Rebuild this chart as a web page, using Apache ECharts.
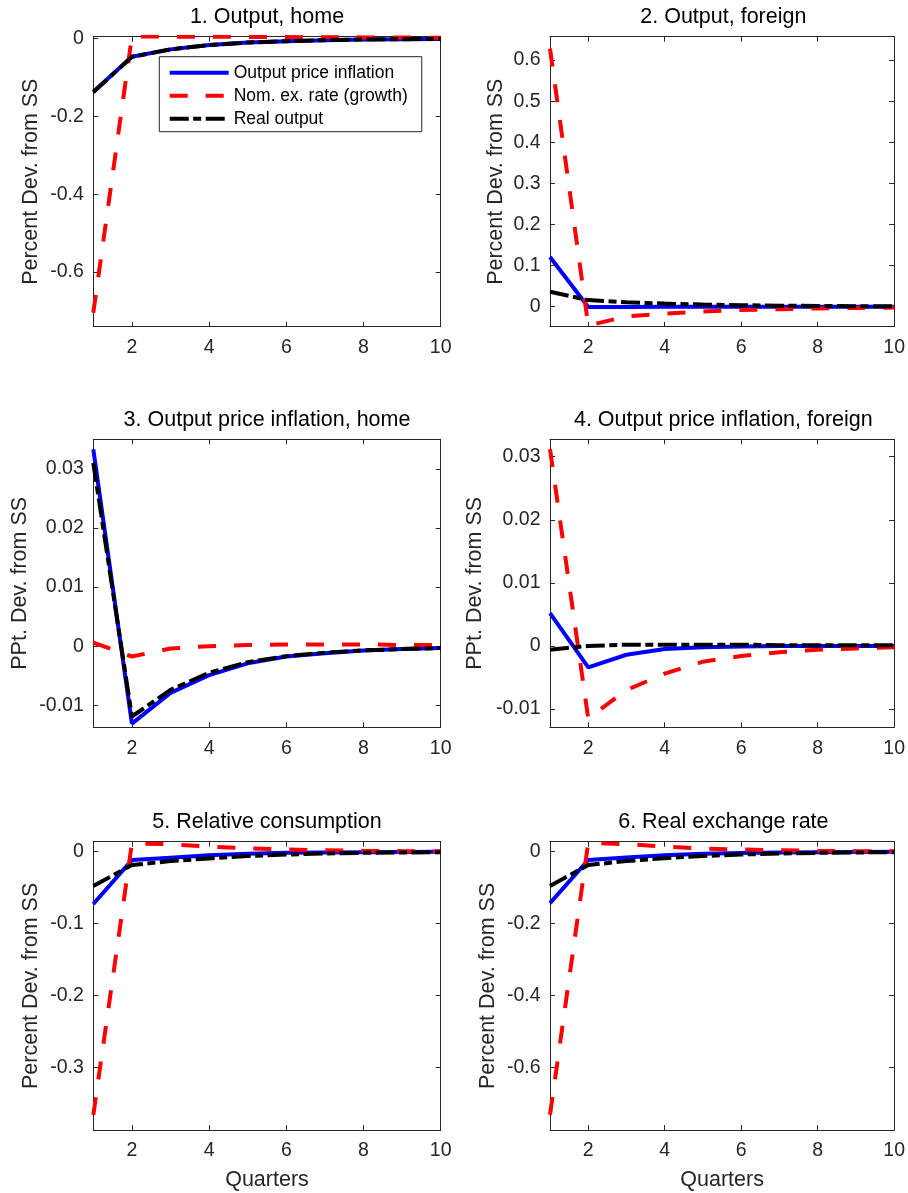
<!DOCTYPE html>
<html>
<head>
<meta charset="utf-8">
<script src="https://cdn.jsdelivr.net/npm/echarts@6/dist/echarts.min.js"></script>
<style>
html,body{margin:0;padding:0;background:#fff;}
#chart{width:908px;height:1193px;}
</style>
</head>
<body>
<div id="chart"></div>
<script>
// ---------------- data ----------------
const quarters = [1, 2, 3, 4, 5, 6, 7, 8, 9, 10];
const xTicks = [2, 4, 6, 8, 10];
const seriesNames = ['Output price inflation', 'Nom. ex. rate (growth)', 'Real output'];
const panelTitles = ['1. Output, home', '2. Output, foreign', '3. Output price inflation, home',
  '4. Output price inflation, foreign', '5. Relative consumption', '6. Real exchange rate'];
const yAxisNames = ['Percent Dev. from SS', 'Percent Dev. from SS', 'PPt. Dev. from SS',
  'PPt. Dev. from SS', 'Percent Dev. from SS', 'Percent Dev. from SS'];

// Panel 1: Output, home
const blue1  = [-0.137, -0.047, -0.028, -0.017, -0.0105, -0.0068, -0.0043, -0.0027, -0.0017, -0.0011];
const red1   = [-0.705, 0.005, 0.0048, 0.0045, 0.004, 0.0036, 0.0032, 0.0028, 0.0024, 0.002];
const black1 = [-0.138, -0.047, -0.028, -0.017, -0.0105, -0.0068, -0.0043, -0.0027, -0.0017, -0.0011];
const yTicks1 = [-0.6, -0.4, -0.2, 0];

// Panel 2: Output, foreign
const blue2  = [0.121, -0.0006, -0.0005, -0.0004, -0.0003, -0.0002, -0.0001, -0.0001, 0, 0];
const red2   = [0.628, -0.046, -0.0235, -0.017, -0.012, -0.0081, -0.006, -0.0042, -0.003, -0.002];
const black2 = [0.0365, 0.016, 0.0107, 0.0075, 0.0052, 0.0036, 0.0025, 0.0017, 0.0012, 0.0008];
const yTicks2 = [0, 0.1, 0.2, 0.3, 0.4, 0.5, 0.6];

// Panel 3: Output price inflation, home
const blue3  = [0.0333, -0.0131, -0.0079, -0.0049, -0.0029, -0.00175, -0.0012, -0.00074, -0.0005, -0.0003];
const red3   = [0.0006, -0.00175, -0.0004, 0.0, 0.0002, 0.0003, 0.0003, 0.0003, 0.0002, 0.0002];
const black3 = [0.031, -0.0119, -0.0074, -0.0045, -0.0027, -0.0017, -0.0011, -0.0007, -0.0005, -0.0003];
const yTicks3 = [-0.01, 0, 0.01, 0.02, 0.03];

// Panel 4: Output price inflation, foreign
const blue4  = [0.0052, -0.0034, -0.0014, -0.0005, -0.0002, -0.0001, 0, 0, 0, 0];
const red4   = [0.0312, -0.0115, -0.0070, -0.0044, -0.0025, -0.0016, -0.0010, -0.0006, -0.0004, -0.0002];
const black4 = [-0.0006, 0.0, 0.0002, 0.0002, 0.0002, 0.0002, 0.0001, 0.0001, 0.0001, 0.0001];
const yTicks4 = [-0.01, 0, 0.01, 0.02, 0.03];

// Panel 5: Relative consumption
const blue5  = [-0.0727, -0.0116, -0.0083, -0.005, -0.003, -0.0016, -0.001, -0.0006, -0.0004, -0.0002];
const red5   = [-0.3657, 0.0117, 0.0103, 0.007, 0.0047, 0.003, 0.002, 0.0012, 0.0008, 0.0005];
const black5 = [-0.0476, -0.0185, -0.013, -0.0093, -0.006, -0.0039, -0.0025, -0.0016, -0.001, -0.0007];
const yTicks5 = [-0.3, -0.2, -0.1, 0];

// Panel 6: Real exchange rate
const blue6  = [-0.143, -0.023, -0.016, -0.0095, -0.0058, -0.0033, -0.002, -0.0012, -0.0007, -0.0004];
const red6   = [-0.731, 0.025, 0.021, 0.014, 0.009, 0.006, 0.004, 0.0025, 0.0016, 0.001];
const black6 = [-0.095, -0.037, -0.026, -0.018, -0.012, -0.0078, -0.005, -0.0032, -0.002, -0.0013];
const yTicks6 = [-0.6, -0.4, -0.2, 0];

// ---------------- layout & style ----------------
const panels = [
  {blue: blue1, red: red1, black: black1, ticks: yTicks1, min: -0.7406, max: 0.0046, nameGap: 51},
  {blue: blue2, red: red2, black: black2, ticks: yTicks2, min: -0.0487, max: 0.657, nameGap: 42.5},
  {blue: blue3, red: red3, black: black3, ticks: yTicks3, min: -0.01373, max: 0.0350, nameGap: 62.5},
  {blue: blue4, red: red4, black: black4, ticks: yTicks4, min: -0.0129, max: 0.03276, nameGap: 63.5},
  {blue: blue5, red: red5, black: black5, ticks: yTicks5, min: -0.3865, max: 0.0139, nameGap: 51},
  {blue: blue6, red: red6, black: black6, ticks: yTicks6, min: -0.773, max: 0.0278, nameGap: 51}
];
const cols = [{left: 93.3, width: 347.4}, {left: 550, width: 346.7}];
const rows = [{top: 36.7, height: 290}, {top: 439.3, height: 288}, {top: 841.7, height: 288.3}];
const titleTops = [6, 408.7, 811];

const FONT = '"Liberation Sans", Arial, Helvetica, sans-serif';
const AX = '#262626';
const lineStyles = [
  {color: '#0000ff', width: 4, type: 'solid'},
  {color: '#ff0000', width: 4, type: [18, 18]},
  {color: '#000000', width: 4, type: [19, 4.5, 8, 4.5]}
];

const grid = [], xAxis = [], yAxis = [], series = [], title = [];

function pairs(arr) { return quarters.map((q, k) => [q, arr[k]]); }

panels.forEach((p, i) => {
  const r = rows[Math.floor(i / 2)], c = cols[i % 2];
  grid.push({left: c.left, top: r.top, width: c.width, height: r.height, containLabel: false});
  title.push({
    text: panelTitles[i], left: c.left + c.width / 2, top: titleTops[Math.floor(i / 2)],
    textAlign: 'center', padding: 0,
    textStyle: {fontFamily: FONT, fontSize: 21.5, fontWeight: 'normal', color: '#000'}
  });
  const axLine = {show: true, onZero: false, lineStyle: {color: AX, width: 1}};
  const isBottom = i >= 4;
  xAxis.push({
    type: 'value', gridIndex: i, position: 'bottom', min: 1, max: 10,
    axisLine: axLine,
    axisTick: {show: true, inside: true, length: 5, customValues: xTicks, lineStyle: {color: AX}},
    axisLabel: {show: true, customValues: xTicks, margin: 11, fontFamily: FONT, fontSize: 19.5, color: AX},
    splitLine: {show: false},
    name: isBottom ? 'Quarters' : '', nameLocation: 'middle', nameGap: 39,
    nameTextStyle: {fontFamily: FONT, fontSize: 21.5, color: AX}
  });
  xAxis.push({
    type: 'value', gridIndex: i, position: 'top', min: 1, max: 10,
    axisLine: axLine,
    axisTick: {show: true, inside: true, length: 5, customValues: xTicks, lineStyle: {color: AX}},
    axisLabel: {show: false}, splitLine: {show: false}
  });
  yAxis.push({
    type: 'value', gridIndex: i, position: 'left', min: p.min, max: p.max,
    axisLine: axLine,
    axisTick: {show: true, inside: true, length: 5, customValues: p.ticks, lineStyle: {color: AX}},
    axisLabel: {show: true, customValues: p.ticks, margin: 9.5, fontFamily: FONT, fontSize: 19.5, color: AX},
    splitLine: {show: false},
    name: yAxisNames[i], nameLocation: 'middle', nameRotate: 90, nameGap: p.nameGap,
    nameTextStyle: {fontFamily: FONT, fontSize: 21.5, color: AX}
  });
  yAxis.push({
    type: 'value', gridIndex: i, position: 'right', min: p.min, max: p.max,
    axisLine: axLine,
    axisTick: {show: true, inside: true, length: 5, customValues: p.ticks, lineStyle: {color: AX}},
    axisLabel: {show: false}, splitLine: {show: false}
  });
  [p.blue, p.red, p.black].forEach((vals, s) => {
    series.push({
      name: seriesNames[s], type: 'line', xAxisIndex: 2 * i, yAxisIndex: 2 * i,
      data: pairs(vals), symbol: 'none', showSymbol: false, smooth: false,
      lineStyle: lineStyles[s], itemStyle: {color: lineStyles[s].color},
      clip: true, animation: false, z: 2 + s
    });
  });
});

const chart = echarts.init(document.getElementById('chart'), null, {renderer: 'canvas'});
chart.setOption({
  backgroundColor: '#ffffff',
  animation: false,
  textStyle: {fontFamily: FONT},
  title: title,
  grid: grid,
  xAxis: xAxis,
  yAxis: yAxis,
  legend: {
    show: true, orient: 'vertical', left: 159.3, top: 56.7,
    data: seriesNames,
    itemWidth: 59, itemHeight: 14, itemGap: 5,
    padding: [7, 14, 4, 8.4],
    itemStyle: {opacity: 0},
    lineStyle: {width: 4},
    backgroundColor: '#ffffff', borderColor: AX, borderWidth: 1,
    textStyle: {fontFamily: FONT, fontSize: 17.5, color: '#000'},
    selectedMode: false, z: 10
  },
  tooltip: {show: false},
  series: series
});
</script>
</body>
</html>
